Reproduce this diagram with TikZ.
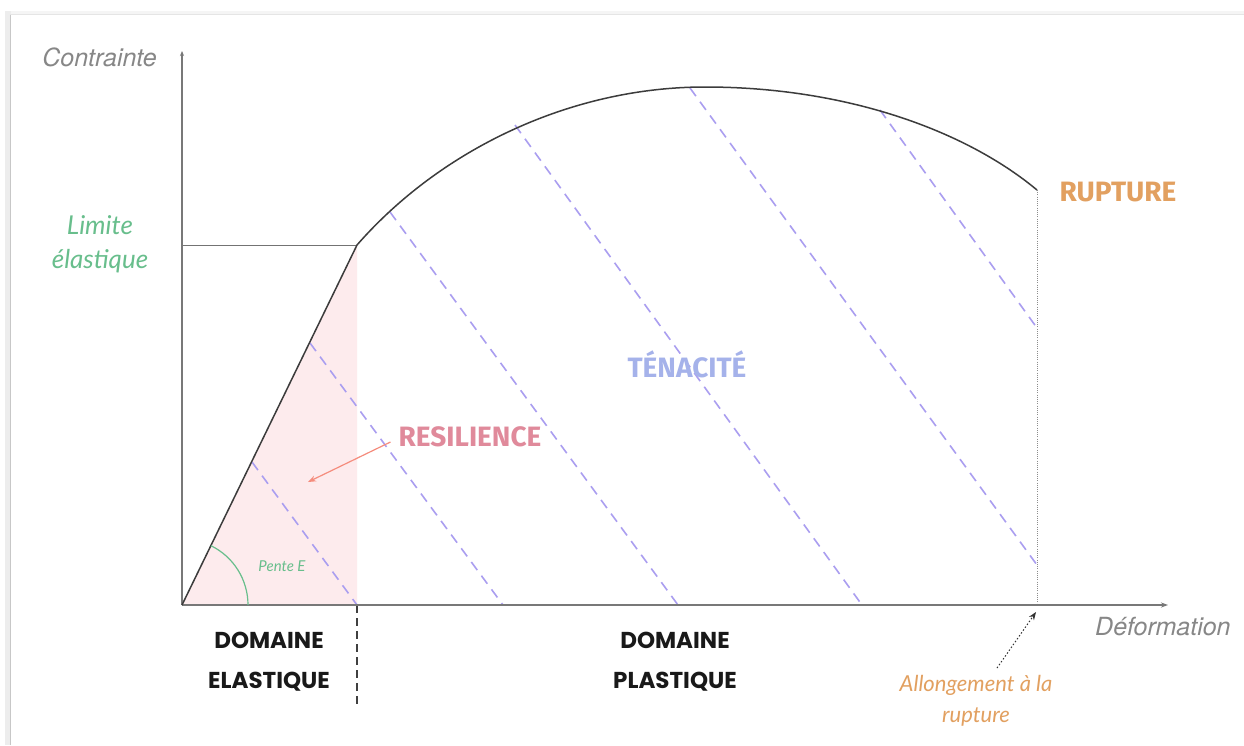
\documentclass[tikz,border=0pt]{standalone}
\usepackage{fontspec}
\setmainfont{Liberation Sans}
\newfontfamily\axisfont{TeX Gyre Heros}
\newfontfamily\handfont{Lato}
\newfontfamily\dispfont{Fira Sans}
\newfontfamily\domfont{Poppins}
\usetikzlibrary{arrows.meta}
\definecolor{axisgrey}{RGB}{120,120,120}
\definecolor{labelgrey}{RGB}{135,135,135}
\definecolor{limgreen}{RGB}{104,190,140}
\definecolor{rupor}{RGB}{226,160,96}
\definecolor{respink}{RGB}{224,138,155}
\definecolor{tenblue}{RGB}{165,178,234}
\definecolor{dashlav}{RGB}{170,158,240}
\definecolor{pinkfill}{RGB}{253,235,237}
\definecolor{arrsalmon}{RGB}{245,140,125}
\definecolor{curvegrey}{RGB}{60,60,60}
\begin{document}
\begin{tikzpicture}[x=1pt,y=-1pt,
  axisline/.style={draw=axisgrey,line width=1.1pt},
  hatch/.style={draw=dashlav,line width=1.6pt,dash pattern=on 10pt off 7pt},
  axislabel/.style={font=\axisfont\itshape\fontsize{25}{28}\selectfont,text=labelgrey,inner sep=0pt},
  handlabel/.style={font=\handfont\itshape\fontsize{26}{34}\selectfont,align=center,inner sep=0pt},
  displabel/.style={font=\dispfont\bfseries\fontsize{28}{32}\selectfont,inner sep=0pt},
  domlabel/.style={font=\domfont\bfseries\fontsize{23}{40}\selectfont,align=center,inner sep=0pt,text=black!90}
]
\useasboundingbox (0,0) rectangle (1244,745);
\fill[white] (0,0) rectangle (1244,745);
% frame shadow
\fill[black!4] (6,11) rectangle (1244,15);
\fill[black!7] (5,11) rectangle (11,745);
\draw[black!10,line width=1pt] (10.5,745) -- (10.5,14.5) -- (1244,14.5);
\draw[black!22,line width=1.5pt] (10.5,745) -- (10.5,15);

% key points
\coordinate (O) at (182,605);
\coordinate (Ytop) at (182,51);
\coordinate (Xend) at (1168,605);
\coordinate (E) at (357,245);
\coordinate (Ey) at (182,245);
\coordinate (Ex) at (357,605);
\coordinate (Ebot) at (357,706);
\coordinate (P) at (705,87);
\coordinate (R) at (1037,190);
\coordinate (Rx) at (1037,605);

% resilience area
\fill[pinkfill] (O) -- (E) -- (Ex) -- cycle;

% hatch lines (tenacite)
\coordinate (h1a) at (252,462); \coordinate (h1b) at (357,605);
\coordinate (h2a) at (310,343); \coordinate (h2b) at (503,605);
\coordinate (h3a) at (390,212); \coordinate (h3b) at (678,605);
\coordinate (h4a) at (515,125); \coordinate (h4b) at (862,605);
\coordinate (h5a) at (690,88);  \coordinate (h5b) at (1037,565);
\coordinate (h6a) at (880,110); \coordinate (h6b) at (1037,328);
\draw[hatch] (h1a) -- (h1b);
\draw[hatch] (h2a) -- (h2b);
\draw[hatch] (h3a) -- (h3b);
\draw[hatch] (h4a) -- (h4b);
\draw[hatch] (h5a) -- (h5b);
\draw[hatch] (h6a) -- (h6b);

% yield level line
\draw[black!55,line width=0.5pt] (Ey) -- (E);
% rupture dotted line
\draw[black!45,line width=0.8pt,dash pattern=on 1pt off 1.2pt] (R) -- (Rx);
% domain separator
\draw[black!75,line width=1.2pt,dash pattern=on 8pt off 5pt] (Ex) -- (Ebot);

% axes
\draw[axisline,-{Stealth[length=5pt,width=4pt]}] (O) -- (Ytop);
\draw[axisline,-{Stealth[length=7pt,width=5pt]}] (O) -- (Xend);

% stress-strain curve
\draw[curvegrey,line width=1.5pt,line join=round] (O) -- (E)
  .. controls (440,150) and (570,87) .. (P)
  .. controls (845,87) and (965,130) .. (R);

% Pente E arc
\coordinate (A0) at (248,605);
\draw[limgreen,line width=1.2pt] (A0) arc[start angle=0,end angle=-64,radius=66];
\node[font=\handfont\itshape\fontsize{15}{18}\selectfont,text=limgreen,inner sep=0pt] (pente) at (282,566) {Pente E};

% labels
\node[axislabel,anchor=east] (contrainte) at (157,57) {Contrainte};
\node[axislabel,anchor=west] (deformation) at (1095,627) {Déformation};
\node[handlabel,text=limgreen] (limite) at (100,244) {Limite\\élastique};
\node[displabel,text=rupor] (rupture) at (1118,192) {RUPTURE};
\node[displabel,text=respink] (resilience) at (470,437) {RESILIENCE};
\node[displabel,text=tenblue] (tenacite) at (687,364) {TÉNACITÉ};
\node[domlabel] (domel) at (269,662) {DOMAINE\\ELASTIQUE};
\node[domlabel] (dompl) at (675,662) {DOMAINE\\PLASTIQUE};
\node[handlabel,text=rupor,font=\handfont\itshape\fontsize{22}{31}\selectfont] (allong) at (976,701) {Allongement à la\\rupture};

% connectors
\coordinate (resTip) at (308,482);
\draw[arrsalmon,line width=1.2pt,-{Stealth[length=8pt,width=6pt]}] (resilience.west) ++(-8,5) -- (resTip);
\coordinate (alStart) at (997,668);
\coordinate (alTip) at (1036,612);
\draw[black!80,line width=1pt,dash pattern=on 1.5pt off 2pt,-{Stealth[length=8pt,width=6pt]}] (alStart) -- (alTip);
\end{tikzpicture}
\end{document}
